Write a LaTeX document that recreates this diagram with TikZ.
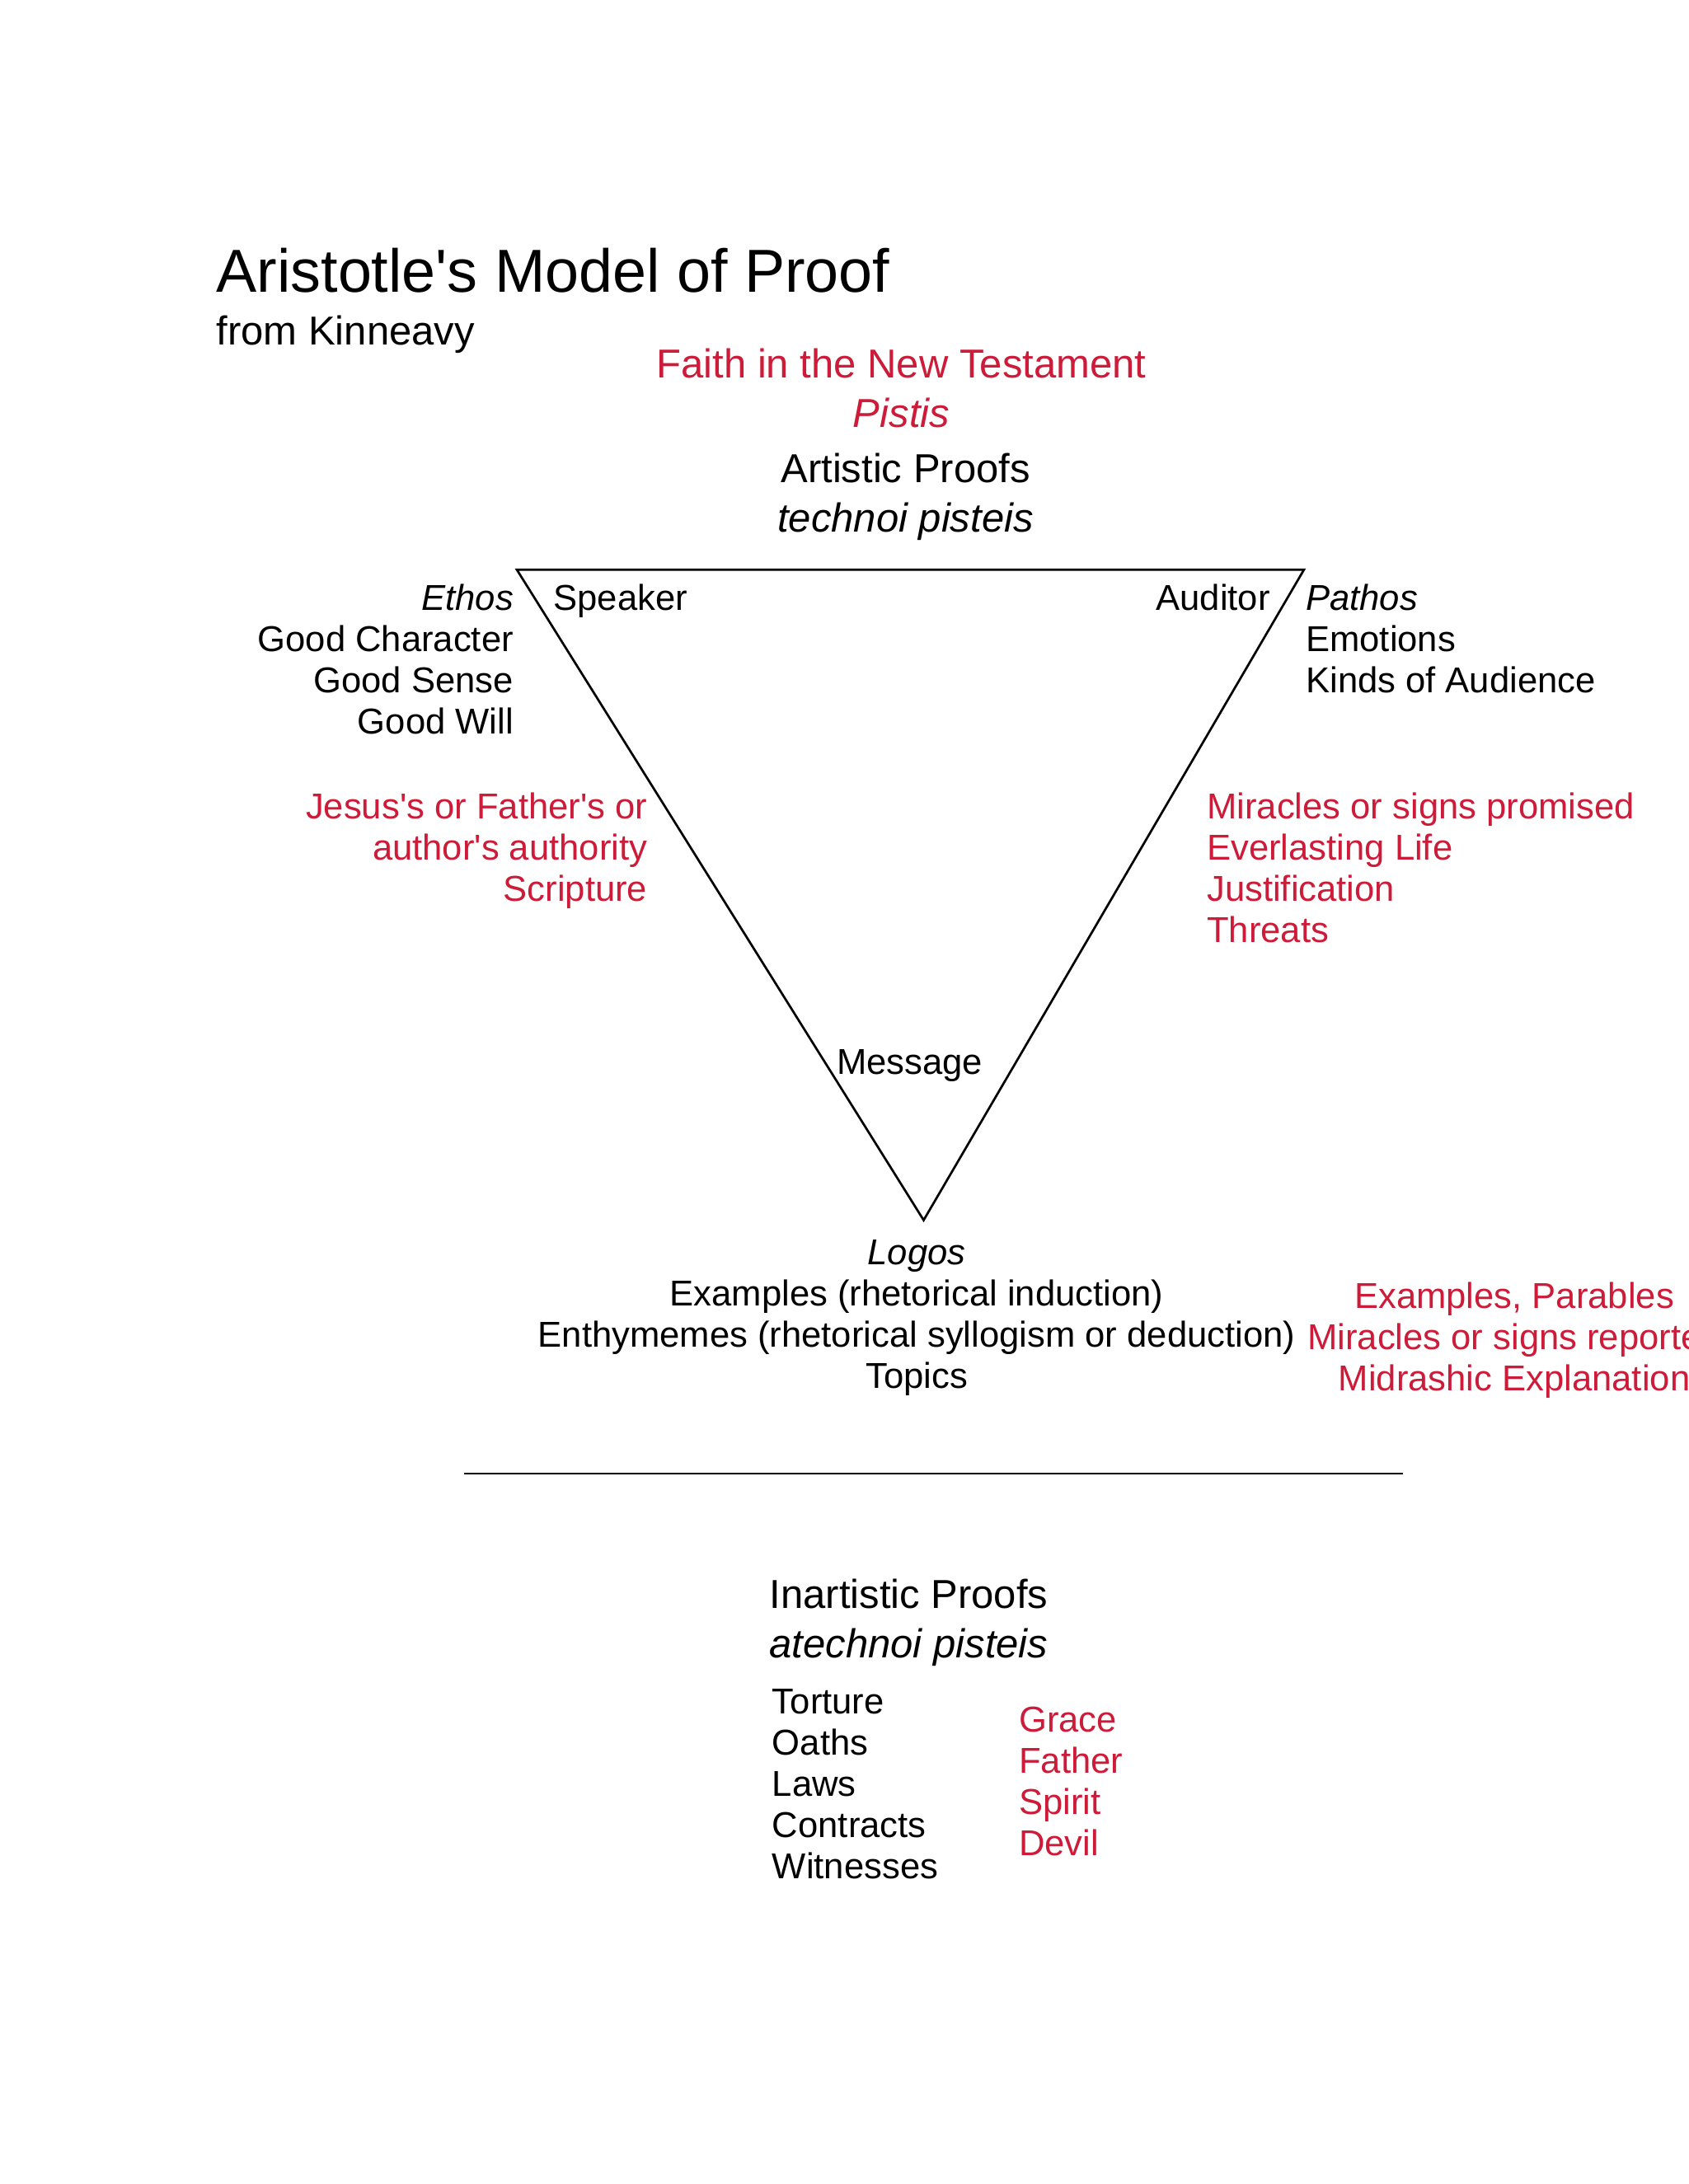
\documentclass[tikz,border=0pt]{standalone}
\usepackage{fontspec}
\setmainfont{Liberation Sans}
\definecolor{fred}{RGB}{204,28,58}
\begin{document}
\begin{tikzpicture}[x=0.5pt,y=-0.5pt,
  sm/.style={inner sep=0pt,font=\fontsize{12.9}{14.8}\selectfont},
  md/.style={inner sep=0pt,font=\fontsize{14.5}{18}\selectfont},
  rd/.style={text=fred}]
\useasboundingbox[fill=white] (0,0) rectangle (1212,1568);
\node[inner sep=0pt,anchor=west,font=\fontsize{21.8}{24}\selectfont] (title) at (155,194) {Aristotle\textquotesingle s Model of Proof};
\node[md,anchor=west] (from) at (155,240) {from Kinneavy};
\node[md,rd,anchor=north,align=center,font=\fontsize{14.5}{17.75}\selectfont] (faith) at (647,250) {Faith in the New Testament\\\itshape Pistis};
\node[md,anchor=north,align=center,font=\fontsize{14.5}{17.75}\selectfont] (art) at (650,325) {Artistic Proofs\\\itshape technoi pisteis};
\coordinate (S) at (371,409); \coordinate (A) at (936,409); \coordinate (M) at (663,876);
\draw[line width=0.8pt] (S) -- (A) -- (M) -- cycle;
\node[sm,anchor=north east,align=right] (ethos) at (369,419) {\itshape Ethos\\Good Character\\Good Sense\\Good Will};
\node[sm,anchor=north west] (spk) at (397,419) {Speaker};
\node[sm,anchor=north east] (aud) at (912,419) {Auditor};
\node[sm,anchor=north west,align=left] (pathos) at (937,419) {\itshape Pathos\\Emotions\\Kinds of Audience};
\node[sm,rd,anchor=north east,align=right] (jes) at (465,569) {Jesus\textquotesingle s or Father\textquotesingle s or\\author\textquotesingle s authority\\Scripture};
\node[sm,rd,anchor=north west,align=left] (mir) at (866,569) {Miracles or signs promised\\Everlasting Life\\Justification\\Threats};
\node[sm,anchor=north] (msg) at (653,753) {Message};
\node[sm,anchor=north,align=center] (logos) at (658,890) {\itshape Logos\\Examples (rhetorical induction)\\Enthymemes (rhetorical syllogism or deduction)\\Topics};
\node[sm,rd,anchor=north,align=center] (ex) at (1087,920) {Examples, Parables\\Miracles or signs reported\\Midrashic Explanation};
\coordinate (L1) at (333,1058); \coordinate (L2) at (1007,1058);
\draw[line width=0.8pt] (L1) -- (L2);
\node[md,anchor=north west,align=left,font=\fontsize{14.5}{17.75}\selectfont] (inart) at (552,1133) {Inartistic Proofs\\\itshape atechnoi pisteis};
\node[sm,anchor=north west,align=left] (tort) at (554,1212) {Torture\\Oaths\\Laws\\Contracts\\Witnesses};
\node[sm,rd,anchor=north west,align=left] (grace) at (731,1225) {Grace\\Father\\Spirit\\Devil};
\end{tikzpicture}
\end{document}
